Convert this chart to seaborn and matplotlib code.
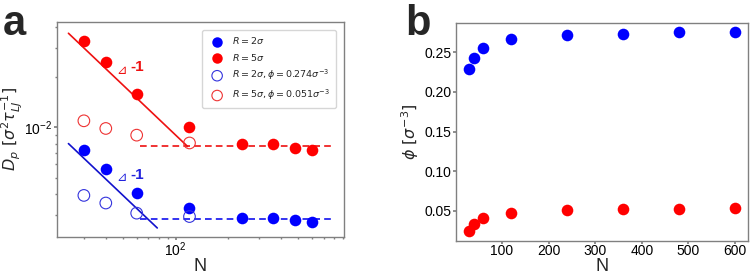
import numpy as np
import pandas as pd
import seaborn as sns
import matplotlib.pyplot as plt
from matplotlib.ticker import NullFormatter

# %% DATA

n_chain = [30, 40, 60, 120, 240, 360, 480, 600]

# panel a: diffusion coefficient D_p
dp_r2 = [7.3e-3, 5.66e-3, 4.03e-3, 3.28e-3, 2.87e-3, 2.87e-3, 2.80e-3, 2.70e-3]
dp_r5 = [3.32e-2, 2.47e-2, 1.59e-2, 1.01e-2, 8.0e-3, 8.0e-3, 7.54e-3, 7.37e-3]
n_fixed = [30, 40, 60, 120]
dp_r2_fixed = [3.91e-3, 3.52e-3, 3.06e-3, 2.92e-3]
dp_r5_fixed = [1.096e-2, 9.86e-3, 8.99e-3, 8.07e-3]

# guide lines: slope -1 and plateau
fit_n_r5 = [24.5, 117]
fit_c_r5 = 0.9
fit_n_r2 = [24.5, 78.6]
fit_c_r2 = 0.196
plateau_n = [63, 795]
plateau_r5 = 7.71e-3
plateau_r2 = 2.83e-3

# panel b: volume fraction phi
phi_r2 = [0.229, 0.2424, 0.255, 0.2668, 0.2718, 0.2735, 0.2753, 0.2753]
phi_r5 = [0.0247, 0.0328, 0.0404, 0.0467, 0.0509, 0.0518, 0.0518, 0.053]

# %% STYLE

sns.set_theme(style="ticks", rc={
    "axes.edgecolor": "0.5",
    "axes.linewidth": 1.0,
    "xtick.color": "0.5",
    "ytick.color": "0.5",
    "xtick.labelcolor": "black",
    "ytick.labelcolor": "black",
    "xtick.major.size": 2,
    "ytick.major.size": 2,
    "xtick.minor.size": 1.5,
    "ytick.minor.size": 1.5,
    "xtick.major.pad": 0.5,
    "ytick.major.pad": 1.5,
    "mathtext.fontset": "dejavusans",
})
plt.rcParams['font.family'] = ['Liberation Sans', 'DejaVu Sans']

fig = plt.figure(figsize=(7.5, 2.74), dpi=100)
ax1 = fig.add_axes([0.0756, 0.1361, 0.3831, 0.7847])
ax2 = fig.add_axes([0.608, 0.1215, 0.3897, 0.7957])

# %% PANEL A

ms = 70
sns.scatterplot(x=n_chain, y=dp_r2, color="#0000ff", s=ms, linewidth=0,
                label=r"$R=2\sigma$", ax=ax1, zorder=3)
sns.scatterplot(x=n_chain, y=dp_r5, color="#ff0000", s=ms, linewidth=0,
                label=r"$R=5\sigma$", ax=ax1, zorder=3)
ax1.scatter(n_fixed, dp_r2_fixed, s=ms, facecolors="none", edgecolors="#3333dd",
            linewidths=0.8, label=r"$R=2\sigma, \phi=0.274\sigma^{-3}$", zorder=3)
ax1.scatter(n_fixed, dp_r5_fixed, s=ms, facecolors="none", edgecolors="#ee3333",
            linewidths=0.8, label=r"$R=5\sigma, \phi=0.051\sigma^{-3}$", zorder=3)

fit_r5 = pd.DataFrame({"N": fit_n_r5, "D": [fit_c_r5 / n for n in fit_n_r5]})
fit_r2 = pd.DataFrame({"N": fit_n_r2, "D": [fit_c_r2 / n for n in fit_n_r2]})
sns.lineplot(data=fit_r5, x="N", y="D", color="#ee1111", lw=1.2, ax=ax1)
sns.lineplot(data=fit_r2, x="N", y="D", color="#1111cc", lw=1.2, ax=ax1)
ax1.plot(plateau_n, [plateau_r5] * 2, color="#ee1111", lw=1.2, ls=(0, (4, 2.5)))
ax1.plot(plateau_n, [plateau_r2] * 2, color="#1111ee", lw=1.2, ls=(0, (4, 2.5)))

ax1.set_xscale("log")
ax1.set_yscale("log")
ax1.set_xlim(21, 912)
ax1.set_ylim(2.21e-3, 4.31e-2)
ax1.xaxis.set_minor_formatter(NullFormatter())
ax1.yaxis.set_minor_formatter(NullFormatter())
ax1.tick_params(labelsize=10)

ax1.text(46, 2.2e-2, "⊿", color="#ee1111", fontsize=9, va="center", family=["DejaVu Sans"])
ax1.text(55, 2.3e-2, "-1", color="#ee1111", fontsize=11, fontweight="bold", va="center")
ax1.text(46, 5.0e-3, "⊿", color="#2222dd", fontsize=9, va="center", family=["DejaVu Sans"])
ax1.text(55, 5.2e-3, "-1", color="#2222dd", fontsize=11, fontweight="bold", va="center")

ax1.set_xlabel("N", fontsize=13)
ax1.set_ylabel(r"$D_p\ [\sigma^2\tau_{LJ}^{-1}]$", fontsize=11.5)
ax1.xaxis.label.set_va("baseline")
ax1.xaxis.set_label_coords(0.5, -0.16)
ax1.yaxis.set_label_coords(-0.112, 0.5)
leg = ax1.legend(loc="upper right", fontsize=6.8, frameon=True, handletextpad=0.6,
                 borderpad=0.6, labelspacing=0.55, markerscale=0.9,
                 bbox_to_anchor=(0.988, 0.985))

# %% PANEL B

sns.scatterplot(x=n_chain, y=phi_r2, color="#0000ff", s=ms, linewidth=0, ax=ax2)
sns.scatterplot(x=n_chain, y=phi_r5, color="#ff0000", s=ms, linewidth=0, ax=ax2)
ax2.set_xlim(1.5, 628.5)
ax2.set_ylim(0.0121, 0.2874)
ax2.set_xticks([100, 200, 300, 400, 500, 600])
ax2.set_yticks([0.05, 0.10, 0.15, 0.20, 0.25])
ax2.tick_params(labelsize=10)
ax2.set_xlabel("N", fontsize=13)
ax2.set_ylabel(r"$\phi\ [\sigma^{-3}]$", fontsize=11.5)
ax2.xaxis.label.set_va("baseline")
ax2.xaxis.set_label_coords(0.5, -0.14)
ax2.yaxis.set_label_coords(-0.12, 0.5)

for ax in (ax1, ax2):
    for sp in ax.spines.values():
        sp.set_visible(True)

fig.text(0.003, 0.872, "a", fontsize=30, fontweight="bold")
fig.text(0.541, 0.872, "b", fontsize=30, fontweight="bold")

fig.savefig("out.png", dpi=100)
